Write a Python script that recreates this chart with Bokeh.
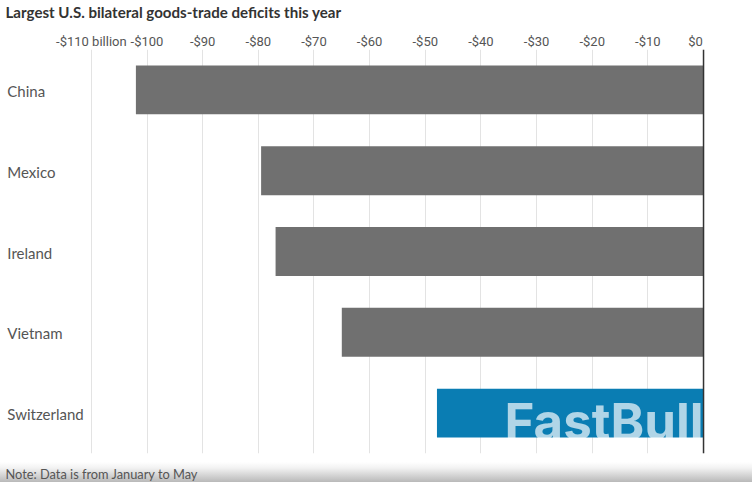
from bokeh.plotting import figure
from bokeh.models import Range1d, FactorRange, FixedTicker, Span, Label, Title
from bokeh.core.properties import value
from bokeh.embed import file_html
from bokeh.resources import INLINE

# goods-trade deficits, $ billion
countries = ["China", "Mexico", "Ireland", "Vietnam", "Switzerland"]
deficits = [-102, -79.5, -76.9, -65, -47.9]
tick_values = [-110, -100, -90, -80, -70, -60, -50, -40, -30, -20, -10, 0]
# the $0 label sits left of its tick in the original, nbsp padding pushes it over
tick_labels = ["-$110 billion", "-$100", "-$90", "-$80", "-$70", "-$60",
               "-$50", "-$40", "-$30", "-$20", "-$10", "$0\u00a0\u00a0\u00a0\u00a0\u00a0"]
bar_colors = ["#707070", "#707070", "#707070", "#707070", "#0a7db3"]

title_text = "Largest U.S. bilateral goods-trade deficits this year"
note_text = "Note: Data is from January to May"

# taller than the window, negative margins pull title and note out to where they belong
p = figure(width=752, height=496, output_backend="svg", toolbar_location=None,
           x_range=Range1d(-126.33, 8.8), y_range=FactorRange(factors=countries[::-1]),
           x_axis_location="above", y_axis_location=None,
           min_border_left=0, min_border_right=0, min_border_top=54, min_border_bottom=38,
           margin=(-5, 0, -9, 0))

# page background carries the grey fade at the bottom of the screenshot
p.border_fill_color = None
p.background_fill_color = None
p.outline_line_color = None
p.styles = {"background": "linear-gradient(to bottom, #ffffff 0px, #ffffff 467px, #f2f2f2 473px, #b9b9b9 487px)"}

p.xaxis.ticker = FixedTicker(ticks=tick_values)
p.xaxis.major_label_overrides = dict(zip(tick_values, tick_labels))
p.xaxis.axis_line_color = None
p.xaxis.major_tick_line_color = None
p.xaxis.minor_tick_line_color = None
p.xaxis.major_tick_out = 0
p.xaxis.major_label_standoff = 1
p.xaxis.major_label_text_font = "Roboto"
p.xaxis.major_label_text_font_size = "13px"
p.xaxis.major_label_text_color = "#555555"

p.xgrid.grid_line_color = "#e3e3e3"
p.ygrid.visible = False

p.hbar(y=countries, left=deficits, right=0, height=0.605, color=bar_colors, line_color=None)
p.add_layout(Span(location=0, dimension="height", line_color="#333333", line_width=1.5))

p.text(x=-125.1, y=countries, text=countries, text_align="left", text_baseline="middle",
       text_font=value("Lato"), text_font_size="15px", text_color="#555555", y_offset=1)

p.add_layout(Title(text=title_text, align="left", offset=5, standoff=15, vertical_align="top",
                   text_font="Lato", text_font_style="bold", text_font_size="15.1px",
                   text_color="#333333"), "above")
p.add_layout(Title(text=note_text, align="left", offset=5, standoff=20, vertical_align="bottom",
                   text_font="Lato", text_font_style="normal", text_font_size="12.8px",
                   text_color="#555555"), "below")
p.add_layout(Label(x=504, y=32, x_units="screen", y_units="screen", text="FastBull",
                   text_baseline="alphabetic", text_font="Inter", text_font_style="bold",
                   text_font_size="51px", text_color="#ffffff", text_alpha=0.68))

open("out.html", "w").write(file_html(p, INLINE))
